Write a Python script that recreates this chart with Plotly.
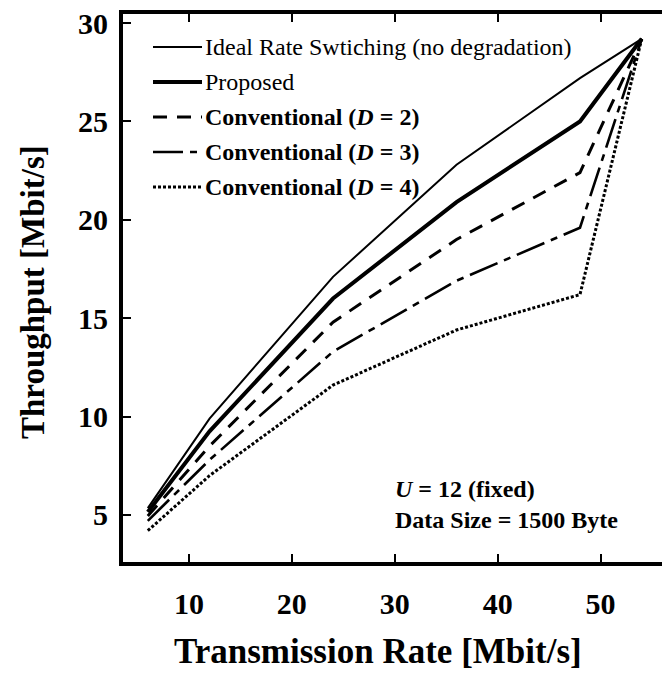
import plotly.graph_objects as go

# ---- data ----
rate = [6, 12, 24, 36, 48, 54]
ideal = [5.35, 9.9, 17.1, 22.8, 27.2, 29.2]
proposed = [5.15, 9.25, 16.0, 20.9, 25.0, 29.2]
conv_d2 = [4.95, 8.5, 14.8, 19.0, 22.4, 29.2]
conv_d3 = [4.7, 7.8, 13.3, 16.9, 19.6, 29.2]
conv_d4 = [4.2, 7.0, 11.6, 14.4, 16.2, 29.2]

series_names = [
    "Ideal Rate Swtiching (no degradation)",
    "Proposed",
    "<b>Conventional (<i>D</i> = 2)</b>",
    "<b>Conventional (<i>D</i> = 3)</b>",
    "<b>Conventional (<i>D</i> = 4)</b>",
]
x_ticks = [10, 20, 30, 40, 50]
y_ticks = [5, 10, 15, 20, 25, 30]

styles = [
    dict(width=2, dash="solid"),
    dict(width=4, dash="solid"),
    dict(width=3, dash="14px,10px"),
    dict(width=2.6, dash="30px,7px,7px,7px"),
    dict(width=3, dash="3px,2px"),
]

FONT = "Liberation Serif, Times New Roman, serif"

fig = go.Figure()
for name, ys, st in zip(series_names, [ideal, proposed, conv_d2, conv_d3, conv_d4], styles):
    fig.add_trace(go.Scatter(x=rate, y=ys, mode="lines", name=name,
                             line=dict(color="black", width=st["width"], dash=st["dash"]),
                             showlegend=False))

W, H = 662, 673
L, R, T, B = 123, 0, 14, 111
pw, ph = W - L - R, H - T - B

def px(xp):
    return (xp - L) / pw

def py(yp):
    return (H - B - yp) / ph

# manual legend (keys + labels)
rows = [47, 82, 117, 152, 187]
for name, st, r in zip(series_names, styles, rows):
    fig.add_shape(type="line", xref="paper", yref="paper",
                  x0=px(153), x1=px(202), y0=py(r), y1=py(r),
                  line=dict(color="black", width=st["width"], dash=st["dash"]))
    fig.add_annotation(xref="paper", yref="paper", x=px(203), y=py(r),
                       xanchor="left", yanchor="middle", showarrow=False,
                       text=name, font=dict(family=FONT, size=24, color="black"))

fig.add_annotation(xref="paper", yref="paper", x=px(393), y=py(504),
                   xanchor="left", yanchor="middle", showarrow=False, align="left",
                   text="<b><i>U</i> = 12 (fixed)<br>Data Size = 1500 Byte</b>",
                   font=dict(family=FONT, size=24, color="black"))

# axis titles
fig.add_annotation(xref="paper", yref="paper", x=px(378), y=py(651),
                   xanchor="center", yanchor="middle", showarrow=False,
                   text="<b>Transmission Rate [Mbit/s]</b>",
                   font=dict(family=FONT, size=35, color="black"))
fig.add_annotation(xref="paper", yref="paper", x=px(33), y=py(292),
                   xanchor="center", yanchor="middle", showarrow=False, textangle=-90,
                   text="<b>Throughput [Mbit/s]</b>",
                   font=dict(family=FONT, size=33, color="black"))

tickfont = dict(family=FONT, size=30, color="black", weight="bold")

fig.update_layout(
    width=W, height=H,
    margin=dict(l=L, r=R, t=T, b=B),
    paper_bgcolor="white", plot_bgcolor="white",
    showlegend=False,
    xaxis=dict(range=[3.59, 55.97], tickvals=x_ticks, ticks="inside", ticklen=8,
               tickwidth=2, tickcolor="black", showline=True, linewidth=4,
               linecolor="black", mirror="ticks", showgrid=False, zeroline=False,
               tickfont=tickfont, ticklabelstandoff=12),
    yaxis=dict(range=[2.61, 30.46], tickvals=y_ticks, ticks="inside", ticklen=8,
               tickwidth=2, tickcolor="black", showline=True, linewidth=4,
               linecolor="black", mirror=False, showgrid=False, zeroline=False,
               tickfont=tickfont, ticklabelstandoff=5),
    yaxis2=dict(range=[2.61, 30.46], tickvals=y_ticks, ticks="inside", ticklen=8,
                tickwidth=2, tickcolor="black", showline=False, overlaying="y",
                side="right", anchor="x", showticklabels=False, showgrid=False,
                zeroline=False),
)

fig.write_html("out.html")
